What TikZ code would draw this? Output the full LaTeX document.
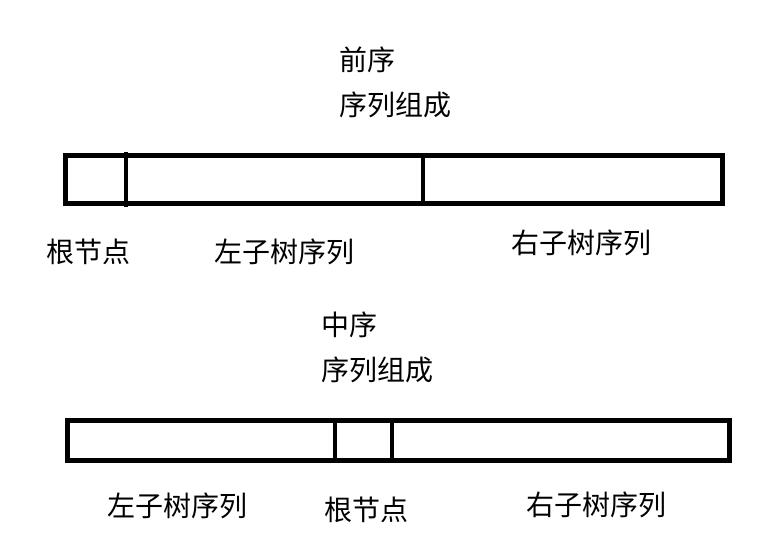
\documentclass[tikz,border=0pt]{standalone}
\usepackage{fontspec}
\newfontfamily\cjk{Noto Sans CJK SC}
\begin{document}
\begin{tikzpicture}[x=1pt,y=-1pt,line join=miter,
	bar/.style={line width=4.6pt},
	lbl/.style={font=\cjk\fontsize{28}{34}\selectfont,inner sep=0pt,anchor=west}]
	\useasboundingbox (0,0) rectangle (783,556);
	% 前序
	\node[lbl] (pre) at (339,60) {前序};
	\node[lbl] (preseq) at (339,105) {序列组成};
	\draw[bar] (65.5,155.5) rectangle (722.5,203.5);
	\draw[bar] (126,152)--(126,207) (423,155.5)--(423,203.5);
	\node[lbl] (preroot) at (46,252) {根节点};
	\node[lbl] (preleft) at (214,252) {左子树序列};
	\node[lbl] (preright) at (511,243) {右子树序列};
	% 中序
	\node[lbl] (in) at (321,325) {中序};
	\node[lbl] (inseq) at (321,370) {序列组成};
	\draw[bar] (67.5,420.5) rectangle (729.5,460.5);
	\draw[bar] (335,420.5)--(335,460.5) (392,420.5)--(392,460.5);
	\node[lbl] (inleft) at (107,506) {左子树序列};
	\node[lbl] (inroot) at (324,510) {根节点};
	\node[lbl] (inright) at (526,505) {右子树序列};
\end{tikzpicture}
\end{document}
